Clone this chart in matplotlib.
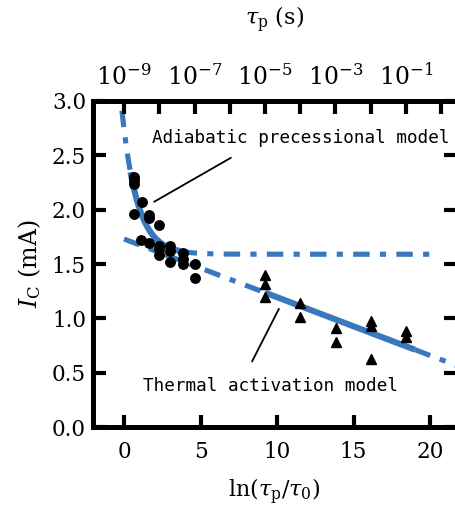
import numpy as np
import matplotlib.pyplot as plt

plt.rcParams['font.family'] = 'DejaVu Serif'
plt.rcParams['mathtext.fontset'] = 'dejavuserif'

# 측정값: x = ln(tau_p/tau_0), y = Ic (mA)
circ_x = [0.67, 0.67, 0.67, 1.16, 0.67, 1.65, 1.65, 2.31, 1.09, 1.65,
          2.31, 2.31, 2.31, 3.01, 3.01, 3.01, 3.88, 3.88, 3.88, 4.64, 4.64]
circ_y = [2.30, 2.27, 2.24, 2.07, 1.96, 1.95, 1.92, 1.86, 1.72, 1.69,
          1.67, 1.63, 1.58, 1.67, 1.62, 1.52, 1.60, 1.55, 1.50, 1.50, 1.37]

tri_x = [9.21, 9.21, 9.21, 11.51, 11.51, 13.82, 13.82,
         16.12, 16.12, 16.12, 18.42, 18.42]
tri_y = [1.40, 1.32, 1.20, 1.14, 1.01, 0.91, 0.78,
         0.98, 0.93, 0.63, 0.88, 0.83]

# 모델 파라미터
tau0 = 1e-9            # s
ic0_ad, b_ad = 1.59, 1.15      # adiabatic: Ic = Ic0 + B*tau0/tau_p
ic0_th, delta = 1.73, 32.3     # thermal: Ic = Ic0*(1 - ln(tau_p/tau0)/Delta)

top_exp = [-9, -7, -5, -3, -1]
top_minor_exp = [-8, -6, -4, -2, 0]

blue = '#3a78be'
dash = (0, (3.2, 2.0, 1.2, 2.0))


def adiabatic(x):
    return ic0_ad + b_ad * np.exp(-x)


def thermal(x):
    return ic0_th * (1 - x / delta)


fig = plt.figure(figsize=(4.55, 5.08), dpi=100)
ax = fig.add_axes([0.2044, 0.1594, 0.798, 0.6418])

# adiabatic model
xa = np.linspace(-0.4, 0.45, 50)
ax.plot(xa, adiabatic(xa), color=blue, lw=3.7, ls=dash, dash_capstyle='butt')
xa = np.linspace(0.42, 3.7, 200)
ax.plot(xa, adiabatic(xa), color=blue, lw=4.4, solid_capstyle='butt')
xa = np.linspace(3.7, 20.1, 200)
ax.plot(xa, adiabatic(xa), color=blue, lw=3.7, ls=dash, dash_capstyle='butt')

# thermal activation model
xt = np.linspace(0.0, 9.2, 50)
ax.plot(xt, thermal(xt), color=blue, lw=3.7, ls=dash, dash_capstyle='butt')
xt = np.linspace(9.2, 19.0, 50)
ax.plot(xt, thermal(xt), color=blue, lw=4.4, solid_capstyle='butt')
xt = np.linspace(19.0, 23.0, 50)
ax.plot(xt, thermal(xt), color=blue, lw=3.7, ls=dash, dash_capstyle='butt')

ax.plot(circ_x, circ_y, 'o', color='black', ms=6.8, zorder=5)
ax.plot(tri_x, tri_y, '^', color='black', ms=7, zorder=5)

# 설명 텍스트
ax.annotate('', xy=(1.81, 2.06), xytext=(7.14, 2.49),
            arrowprops=dict(arrowstyle='-', color='black', lw=1.3))
ax.annotate('', xy=(10.2, 1.11), xytext=(8.28, 0.58),
            arrowprops=dict(arrowstyle='-', color='black', lw=1.3))
ax.text(1.83, 2.61, 'Adiabatic precessional model', family='DejaVu Sans Mono',
        fontsize=12.7, va='baseline')
ax.text(1.26, 0.33, 'Thermal activation model', family='DejaVu Sans Mono',
        fontsize=12.7, va='baseline')

ax.set_xlim(-2.03, 21.7)
ax.set_ylim(0, 3.0)
ax.set_xticks([0, 5, 10, 15, 20])
ax.set_yticks(np.arange(0, 3.01, 0.5))
ax.set_yticklabels(['%.1f' % v for v in np.arange(0, 3.01, 0.5)])
ax.tick_params(direction='in', length=9, width=3, labelsize=15.5, right=True,
               pad=10)
ax.tick_params(axis='y', pad=5)
for s in ax.spines.values():
    s.set_linewidth(3.5)

ax.set_xlabel(r'$\mathrm{ln}(\tau_\mathrm{p}/\tau_0)$', fontsize=16, labelpad=10)
ax.set_ylabel(r'$I_\mathrm{C}$ (mA)', fontsize=17, labelpad=6)

# 위쪽 축: tau_p (s)
ax2 = ax.twiny()
ax2.set_xlim(ax.get_xlim())
ax2.set_xticks(np.log(10.0 ** np.array(top_exp) / tau0))
ax2.set_xticklabels([r'$10^{%d}$' % e for e in top_exp])
ax2.set_xticks(np.log(10.0 ** np.array(top_minor_exp) / tau0), minor=True)
ax2.tick_params(which='both', direction='in', length=9, width=3,
                labelsize=17, pad=8)
for s in ax2.spines.values():
    s.set_linewidth(3.5)
ax2.set_xlabel(r'$\tau_\mathrm{p}$ (s)', fontsize=16, labelpad=27)

fig.savefig('out.png', dpi=100, facecolor='white')
